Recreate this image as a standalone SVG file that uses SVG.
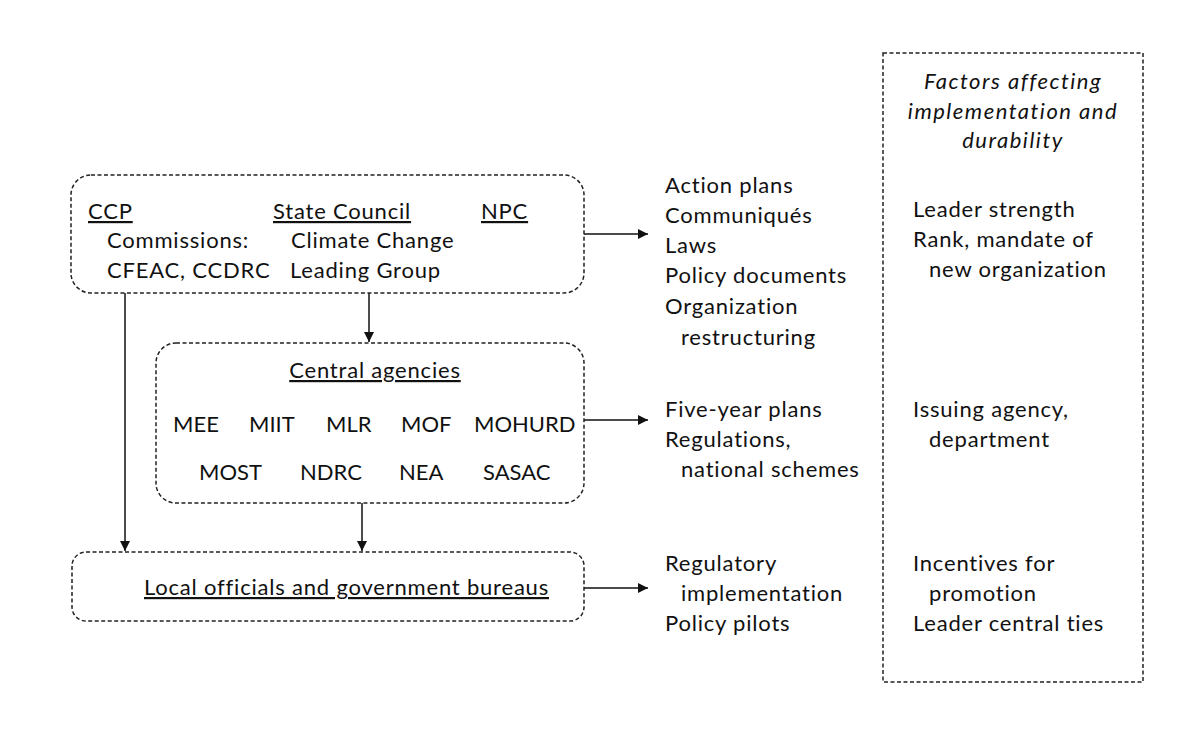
<svg xmlns="http://www.w3.org/2000/svg" width="1200" height="749" viewBox="0 0 1200 749">
<defs>
<style>
text{font-family:Lato,"Open Sans","Liberation Sans",sans-serif;font-size:22px;letter-spacing:0.8px;fill:#111}
.u{text-decoration:underline}
.it{font-style:italic;letter-spacing:1.5px}
.ag{letter-spacing:0}
.box{fill:none;stroke:#222;stroke-width:1.5;stroke-dasharray:4 2.5}
.con{fill:none;stroke:#111;stroke-width:1.5}
</style>
<marker id="ah" viewBox="0 0 10 10" refX="10" refY="5" markerWidth="10" markerHeight="10" markerUnits="userSpaceOnUse" orient="auto">
<path d="M0,0 L10,5 L0,10 z" fill="#111"/>
</marker>
</defs>
<rect width="1200" height="749" fill="#fff"/>
<g id="connectors">
<line class="con" x1="584" y1="234" x2="648" y2="234" marker-end="url(#ah)"/>
<line class="con" x1="584" y1="420" x2="648" y2="420" marker-end="url(#ah)"/>
<line class="con" x1="584" y1="588" x2="648" y2="588" marker-end="url(#ah)"/>
<line class="con" x1="125" y1="293" x2="125" y2="551" marker-end="url(#ah)"/>
<line class="con" x1="369" y1="293" x2="369" y2="342" marker-end="url(#ah)"/>
<line class="con" x1="362" y1="503" x2="362" y2="551" marker-end="url(#ah)"/>
</g>
<g id="top-leadership">
<rect class="box" x="71" y="175" width="513" height="118" rx="20"/>
<text class="u" x="88" y="219">CCP</text>
<text class="u" x="273" y="219">State Council</text>
<text class="u" x="481" y="219">NPC</text>
<text x="107" y="248">Commissions:</text>
<text x="291" y="248">Climate Change</text>
<text x="107" y="278">CFEAC, CCDRC</text>
<text x="290" y="278">Leading Group</text>
</g>
<g id="central-agencies">
<rect class="box" x="156" y="343" width="428" height="160" rx="20"/>
<text class="u" x="375" y="378" text-anchor="middle">Central agencies</text>
<text class="ag" x="173" y="432">MEE</text>
<text class="ag" x="249" y="432">MIIT</text>
<text class="ag" x="326" y="432">MLR</text>
<text class="ag" x="401" y="432">MOF</text>
<text class="ag" x="474" y="432">MOHURD</text>
<text class="ag" x="199" y="480">MOST</text>
<text class="ag" x="300" y="480">NDRC</text>
<text class="ag" x="399" y="480">NEA</text>
<text class="ag" x="483" y="480">SASAC</text>
</g>
<g id="local">
<rect class="box" x="72" y="552" width="512" height="69" rx="14"/>
<text class="u" x="144" y="595">Local officials and government bureaus</text>
</g>
<g id="outputs-top">
<text x="665" y="193">Action plans</text>
<text x="665" y="223">Communiqués</text>
<text x="665" y="253">Laws</text>
<text x="665" y="283">Policy documents</text>
<text x="665" y="314">Organization</text>
<text x="681" y="345">restructuring</text>
</g>
<g id="outputs-mid">
<text x="665" y="417">Five-year plans</text>
<text x="665" y="447">Regulations,</text>
<text x="681" y="477">national schemes</text>
</g>
<g id="outputs-bottom">
<text x="665" y="571">Regulatory</text>
<text x="681" y="601">implementation</text>
<text x="665" y="631">Policy pilots</text>
</g>
<g id="factors">
<rect class="box" x="883" y="53" width="260" height="629"/>
<text class="it" x="1013" y="89" text-anchor="middle">Factors affecting</text>
<text class="it" x="1013" y="119" text-anchor="middle">implementation and</text>
<text class="it" x="1013" y="148" text-anchor="middle">durability</text>
<text x="913" y="217">Leader strength</text>
<text x="913" y="247">Rank, mandate of</text>
<text x="929" y="277">new organization</text>
<text x="913" y="417">Issuing agency,</text>
<text x="929" y="447">department</text>
<text x="913" y="571">Incentives for</text>
<text x="929" y="601">promotion</text>
<text x="913" y="631">Leader central ties</text>
</g>
</svg>
